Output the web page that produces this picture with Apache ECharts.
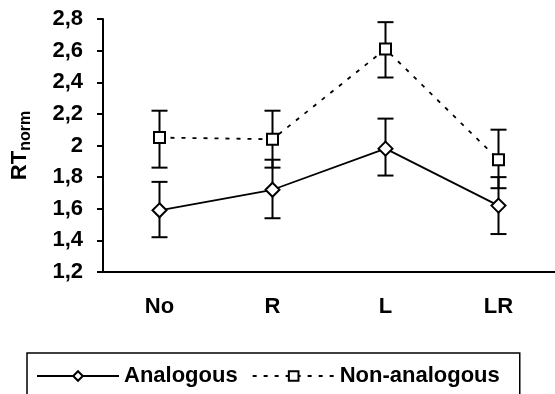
<!DOCTYPE html>
<html>
<head>
<meta charset="utf-8">
<script src="https://cdn.jsdelivr.net/npm/echarts@6/dist/echarts.min.js"></script>
<style>
  html, body { margin: 0; padding: 0; background: #fff; }
  #chart { width: 555px; height: 394px; }
</style>
</head>
<body>
<div id="chart"></div>
<script>
// --- data ---
const categories = ['No', 'R', 'L', 'LR'];

const analogous = [1.59, 1.72, 1.98, 1.62];
const analogousLow = [1.42, 1.54, 1.81, 1.44];
const analogousHigh = [1.77, 1.91, 2.17, 1.80];

const nonAnalogous = [2.05, 2.04, 2.61, 1.91];
const nonAnalogousLow = [1.86, 1.86, 2.43, 1.73];
const nonAnalogousHigh = [2.22, 2.22, 2.78, 2.10];

const yTicks = [1.2, 1.4, 1.6, 1.8, 2.0, 2.2, 2.4, 2.6, 2.8];

const FONT = 'Liberation Sans, Arial, sans-serif';

// error bars: vertical line with caps
const errorBarItem = (params, api) => {
  const x = api.value(0);
  const top = api.coord([x, api.value(2)]);
  const bot = api.coord([x, api.value(1)]);
  const hw = 8;
  const style = { stroke: '#000', lineWidth: 2 };
  return {
    type: 'group',
    children: [
      { type: 'line', shape: { x1: top[0], y1: top[1], x2: bot[0], y2: bot[1] }, style },
      { type: 'line', shape: { x1: top[0] - hw, y1: top[1], x2: top[0] + hw, y2: top[1] }, style },
      { type: 'line', shape: { x1: bot[0] - hw, y1: bot[1], x2: bot[0] + hw, y2: bot[1] }, style }
    ]
  };
};

const chart = echarts.init(document.getElementById('chart'), null, { renderer: 'canvas' });

chart.setOption({
  backgroundColor: '#fff',
  animation: false,
  grid: { left: 103, right: 0, top: 19, bottom: 122 },
  legend: {
    data: ['Analogous', 'Non-analogous'],
    left: 27,
    top: 353,
    padding: [12, 20, 40, 9],
    itemWidth: 82,
    itemHeight: 12,
    itemGap: 14,
    borderColor: '#000',
    borderWidth: 1.5,
    textStyle: { fontFamily: FONT, fontSize: 22, fontWeight: 'bold', color: '#000' }
  },
  xAxis: {
    type: 'category',
    data: categories,
    axisLine: { lineStyle: { color: '#000', width: 2 } },
    axisTick: { length: 6, lineStyle: { color: '#000', width: 2 } },
    axisLabel: { margin: 24, fontFamily: FONT, fontSize: 22, fontWeight: 'bold', color: '#000' }
  },
  yAxis: {
    type: 'value',
    min: 1.2,
    max: 2.8,
    interval: 0.2,
    name: '{a|RT}{b|norm}',
    nameLocation: 'middle',
    nameRotate: 90,
    nameGap: 72,
    nameTextStyle: {
      rich: {
        a: { fontFamily: FONT, fontSize: 22, fontWeight: 'bold', color: '#000', verticalAlign: 'bottom' },
        b: { fontFamily: FONT, fontSize: 16, fontWeight: 'bold', color: '#000', verticalAlign: 'bottom', padding: [0, 0, -3, 0] }
      }
    },
    axisLine: { show: true, lineStyle: { color: '#000', width: 2 } },
    axisTick: { show: true, length: 6, lineStyle: { color: '#000', width: 2 } },
    splitLine: { show: false },
    axisLabel: {
      margin: 20,
      fontFamily: FONT,
      fontSize: 22,
      fontWeight: 'bold',
      color: '#000',
      formatter: v => {
        const t = yTicks.find(k => Math.abs(k - v) < 1e-6);
        return String(+(t ?? v).toFixed(1)).replace('.', ',');
      }
    }
  },
  series: [
    {
      type: 'custom',
      name: 'errNon',
      renderItem: errorBarItem,
      data: categories.map((c, i) => [i, nonAnalogousLow[i], nonAnalogousHigh[i]]),
      z: 1
    },
    {
      type: 'custom',
      name: 'errAna',
      renderItem: errorBarItem,
      data: categories.map((c, i) => [i, analogousLow[i], analogousHigh[i]]),
      z: 1
    },
    {
      name: 'Analogous',
      type: 'line',
      data: analogous,
      symbol: 'diamond',
      symbolSize: 14,
      lineStyle: { color: '#000', width: 1.8 },
      itemStyle: { color: '#fff', borderColor: '#000', borderWidth: 2 },
      z: 3
    },
    {
      name: 'Non-analogous',
      type: 'line',
      data: nonAnalogous,
      symbol: 'rect',
      symbolSize: 11,
      lineStyle: { color: '#000', width: 1.8, type: [4, 7] },
      itemStyle: { color: '#fff', borderColor: '#000', borderWidth: 2 },
      z: 3
    }
  ]
});
</script>
</body>
</html>
